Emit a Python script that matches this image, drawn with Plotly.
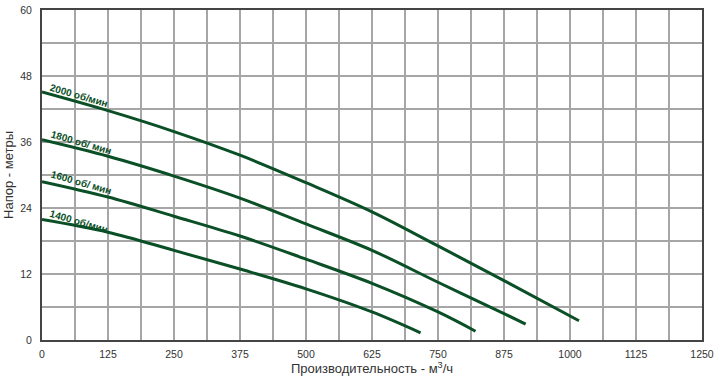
import plotly.graph_objects as go

# Data (flow m3/h, head m)
x_2000 = [0, 125, 250, 375, 500, 625, 750, 875, 1017]
y_2000 = [45.1, 41.7, 37.9, 33.6, 28.6, 23.3, 17.1, 10.8, 3.5]

x_1800 = [0, 125, 250, 375, 500, 625, 750, 875, 916]
y_1800 = [36.4, 33.4, 29.8, 25.8, 21.1, 16.3, 10.5, 4.8, 2.9]

x_1600 = [0, 125, 250, 375, 500, 625, 750, 821]
y_1600 = [28.8, 26.0, 22.5, 18.9, 14.7, 10.3, 5.1, 1.6]

x_1400 = [0, 125, 250, 375, 500, 625, 717]
y_1400 = [21.9, 19.6, 16.3, 12.9, 9.3, 5.1, 1.3]

labels = ["2000 об/мин", "1800 об/ мин", "1600 об/ мин", "1400 об/мин"]
label_x = [70, 74, 74, 70]
label_y = [44.4, 35.9, 28.6, 21.6]

x_ticks = [0, 125, 250, 375, 500, 625, 750, 875, 1000, 1125, 1250]
y_ticks = [0, 12, 24, 36, 48, 60]

green = "#0a4f26"
grid = "#a6a6a6"
font_fam = "Liberation Sans, Arial"

fig = go.Figure()
for xs, ys in [(x_2000, y_2000), (x_1800, y_1800), (x_1600, y_1600), (x_1400, y_1400)]:
    fig.add_trace(go.Scatter(x=xs, y=ys, mode="lines",
                             line=dict(color=green, width=3, shape="spline", smoothing=1.0),
                             showlegend=False, hoverinfo="skip"))

for t, lx, ly in zip(labels, label_x, label_y):
    fig.add_annotation(x=lx, y=ly, text="<b>" + t + "</b>", showarrow=False,
                       textangle=16, font=dict(family=font_fam, size=10, color=green))

fig.update_layout(
    width=720, height=385,
    margin=dict(l=42, r=18, t=10, b=45),
    paper_bgcolor="white", plot_bgcolor="white",
    font=dict(family=font_fam, size=10.5, color="#333333"),
    xaxis=dict(range=[0, 1250], tickvals=x_ticks, showgrid=True, gridcolor=grid, gridwidth=2,
               minor=dict(dtick=62.5, tick0=0, showgrid=True, gridcolor=grid, gridwidth=2),
               showline=True, mirror=True, linecolor="#444444", linewidth=2,
               zeroline=False, ticks="", ticklabelstandoff=3, automargin=False,
               title=dict(text="Производительность - м<sup>3</sup>/ч", font=dict(size=13, color="#333333"), standoff=5)),
    yaxis=dict(range=[0, 60], tickvals=y_ticks, showgrid=True, gridcolor=grid, gridwidth=2,
               minor=dict(dtick=6, tick0=0, showgrid=True, gridcolor=grid, gridwidth=2),
               showline=True, mirror=True, linecolor="#444444", linewidth=2,
               zeroline=False, ticks="", ticklabelstandoff=6, automargin=False,
               title=dict(text="Напор - метры", font=dict(size=13, color="#333333"), standoff=4)),
)

fig.write_html("out.html", config={"displayModeBar": False},
               post_script="document.body.style.margin='0px';")
